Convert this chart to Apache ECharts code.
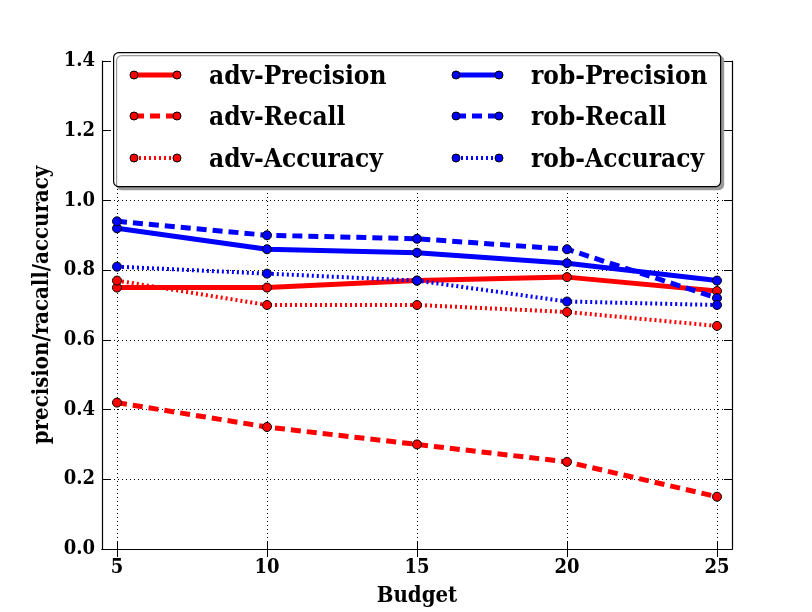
<!DOCTYPE html>
<html>
<head>
<meta charset="utf-8">
<script src="https://cdn.jsdelivr.net/npm/echarts@6/dist/echarts.min.js"></script>
<style>
  html, body { margin: 0; padding: 0; background: #fff; }
  #chart { width: 812px; height: 612px; }
</style>
</head>
<body>
<div id="chart"></div>
<script>
const budget = [5, 10, 15, 20, 25]
const advPrecision = [0.75, 0.75, 0.77, 0.78, 0.74]
const advRecall = [0.42, 0.35, 0.30, 0.25, 0.15]
const advAccuracy = [0.77, 0.70, 0.70, 0.68, 0.64]
const robPrecision = [0.92, 0.86, 0.85, 0.82, 0.77]
const robRecall = [0.94, 0.90, 0.89, 0.86, 0.72]
const robAccuracy = [0.81, 0.79, 0.77, 0.71, 0.70]
const xTicks = [5, 10, 15, 20, 25]

const font = '"DejaVu Serif Condensed", "DejaVu Serif", serif'
const red = "#ff0000"
const blue = "#0000ff"
const solid = "solid"
const dashed = [10, 6]
const dotted = [2, 3]

let myChart = echarts.init(document.getElementById("chart"))

function line(name, values, color, type, width) {
    return {
        name: name,
        type: "line",
        data: budget.map((b, i) => [b, values[i]]),
        symbol: "circle",
        symbolSize: 9,
        itemStyle: { color: color, borderColor: "#000", borderWidth: 1 },
        lineStyle: { color: color, type: type, width: width },
        z: 3,
        animation: false
    }
}

// legend samples: line with a marker at each end, like the original
function legendSample(x, y, color, type, width) {
    return {
        type: "group", z: 20,
        children: [
            { type: "line", shape: { x1: x, y1: y, x2: x + 43, y2: y }, z: 20,
              style: { stroke: color, lineWidth: width, lineDash: type === solid ? null : type } },
            { type: "circle", shape: { cx: x, cy: y, r: 4 }, z: 21,
              style: { fill: color, stroke: "#000", lineWidth: 1 } },
            { type: "circle", shape: { cx: x + 43, cy: y, r: 4 }, z: 21,
              style: { fill: color, stroke: "#000", lineWidth: 1 } }
        ]
    }
}

let legendBase = {
    orient: "vertical",
    top: 58,
    itemWidth: 48,
    itemHeight: 12,
    itemGap: 13.5,
    icon: "rect",
    itemStyle: { opacity: 0 },
    textStyle: {
        fontFamily: font,
        fontWeight: "bold",
        fontSize: 26,
        lineHeight: 28,
        color: "#000",
        padding: [0, 0, 0, 20]
    },
    z: 10
}

let option = {
    animation: false,
    grid: {
        left: 102, right: 80, top: 61, bottom: 60,
        show: false
    },
    graphic: [{
        type: "rect",
        left: 113, top: 52, z: 5,
        shape: { width: 607, height: 134, r: 5 },
        style: {
            fill: "#fff", stroke: "#000", lineWidth: 1.2,
            shadowColor: "#999", shadowOffsetX: 3, shadowOffsetY: 3, shadowBlur: 0
        }
    },
        legendSample(134, 75, red, solid, 5),
        legendSample(134, 116, red, dashed, 5),
        legendSample(134, 158, red, dotted, 4),
        legendSample(456, 75, blue, solid, 5),
        legendSample(456, 116, blue, dashed, 5),
        legendSample(456, 158, blue, dotted, 4)
    ],
    legend: [
        { ...legendBase, left: 130, data: ["adv-Precision", "adv-Recall", "adv-Accuracy"] },
        { ...legendBase, left: 452, data: ["rob-Precision", "rob-Recall", "rob-Accuracy"] }
    ],
    xAxis: [{
        type: "value",
        min: 4.5, max: 25.5,
        name: "Budget",
        nameLocation: "middle",
        nameGap: 36,
        nameTextStyle: { fontFamily: font, fontWeight: "bold", fontSize: 22, color: "#000" },
        axisLine: { lineStyle: { color: "#000", width: 1.2 } },
        axisTick: { inside: true, length: 8, customValues: xTicks, lineStyle: { color: "#000" } },
        axisLabel: { customValues: xTicks, margin: 9, fontFamily: font, fontWeight: "bold", fontSize: 20, color: "#000" },
        splitLine: { show: true, lineStyle: { color: "#000", type: [1, 3], width: 1 } }
    }, {
        type: "value",
        position: "top",
        min: 4.5, max: 25.5,
        axisLine: { lineStyle: { color: "#000", width: 1.2 } },
        axisTick: { inside: true, length: 8, customValues: xTicks, lineStyle: { color: "#000" } },
        axisLabel: { show: false },
        splitLine: { show: false }
    }],
    yAxis: [{
        type: "value",
        min: 0, max: 1.4, interval: 0.2,
        name: "precision/racall/accuracy",
        nameLocation: "middle",
        nameGap: 44,
        nameTextStyle: { fontFamily: font, fontWeight: "bold", fontSize: 22, color: "#000" },
        axisLine: { show: true, lineStyle: { color: "#000", width: 1.2 } },
        axisTick: { show: true, inside: true, length: 8, lineStyle: { color: "#000" } },
        axisLabel: {
            margin: 7, fontFamily: font, fontWeight: "bold", fontSize: 20, color: "#000",
            formatter: v => v.toFixed(1)
        },
        splitLine: { show: true, lineStyle: { color: "#000", type: [1, 3], width: 1 } }
    }, {
        type: "value",
        position: "right",
        min: 0, max: 1.4, interval: 0.2,
        axisLine: { show: true, lineStyle: { color: "#000", width: 1.2 } },
        axisTick: { show: true, inside: true, length: 8, lineStyle: { color: "#000" } },
        axisLabel: { show: false },
        splitLine: { show: false }
    }],
    series: [
        line("adv-Precision", advPrecision, red, solid, 5),
        line("adv-Recall", advRecall, red, dashed, 5),
        line("adv-Accuracy", advAccuracy, red, dotted, 4),
        line("rob-Precision", robPrecision, blue, solid, 5),
        line("rob-Recall", robRecall, blue, dashed, 5),
        line("rob-Accuracy", robAccuracy, blue, dotted, 4)
    ]
}

myChart.setOption(option)
</script>
</body>
</html>
